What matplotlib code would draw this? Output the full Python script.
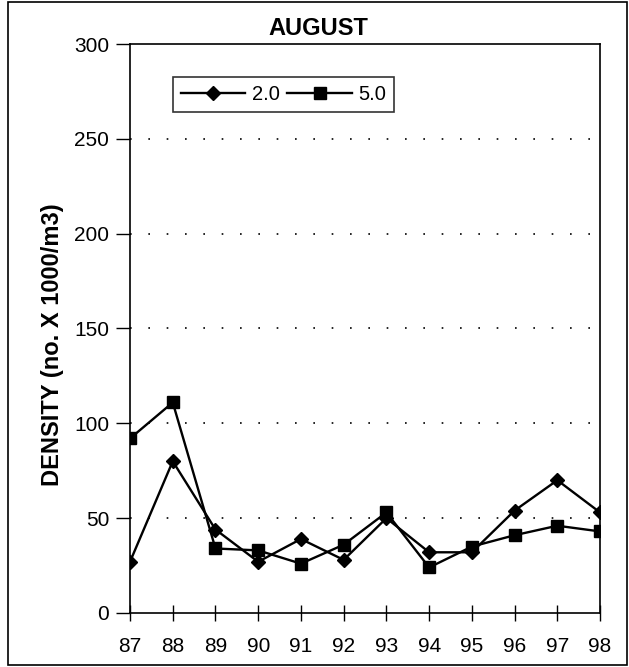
import matplotlib

matplotlib.use("Agg")
import matplotlib.pyplot as plt
from matplotlib.patches import Rectangle

plt.rcParams["font.family"] = ["Liberation Sans", "DejaVu Sans"]

years = [87, 88, 89, 90, 91, 92, 93, 94, 95, 96, 97, 98]
series_2 = [27, 80, 44, 27, 39, 28, 50, 32, 32, 54, 70, 53]
series_5 = [92, 111, 34, 33, 26, 36, 53, 24, 35, 41, 46, 43]
year_labels = [str(y) for y in years]

fig = plt.figure(figsize=(6.29, 6.67), dpi=100)
ax = fig.add_axes([0.2067, 0.081, 0.7473, 0.853])

ax.plot(years, series_2, color="black", linewidth=1.7, marker="D", markersize=7.5, label="2.0")
ax.plot(years, series_5, color="black", linewidth=1.7, marker="s", markersize=8.5, label="5.0")

ax.set_xlim(87, 98)
ax.set_ylim(0, 300)
ax.set_xticks(years)
ax.set_xticklabels(year_labels)
ax.set_yticks([0, 50, 100, 150, 200, 250, 300])
ax.tick_params(axis="x", direction="inout", length=12, width=1, labelsize=15, pad=11)
ax.tick_params(axis="y", direction="out", length=10, width=1, labelsize=15, pad=5)

for v in [50, 100, 150, 200, 250]:
    ax.axhline(v, color="black", linestyle=(0, (1, 10)), linewidth=1.2)

for side in ["left", "bottom", "top", "right"]:
    ax.spines[side].set_linewidth(1.2)

# title and y label are centred on the page, not on the axes
fig.text(0.506, 0.958, "AUGUST", ha="center", va="center", fontsize=17, fontweight="bold")
fig.text(0.083, 0.483, "DENSITY (no. X 1000/m3)", ha="center", va="center",
         rotation=90, fontsize=17, fontweight="bold")

leg = ax.legend(loc="upper left", bbox_to_anchor=(0.07, 0.96), ncol=2, frameon=True,
                fancybox=False, edgecolor="black", fontsize=14.5, handlelength=3.2,
                columnspacing=0.4, handletextpad=0.3, borderpad=0.4)
leg.get_frame().set_linewidth(1.2)

fig.patches.append(Rectangle((0.013, 0.003), 0.984, 0.994, transform=fig.transFigure,
                             fill=False, edgecolor="black", linewidth=1.2))

fig.savefig("out.png", dpi=100)
